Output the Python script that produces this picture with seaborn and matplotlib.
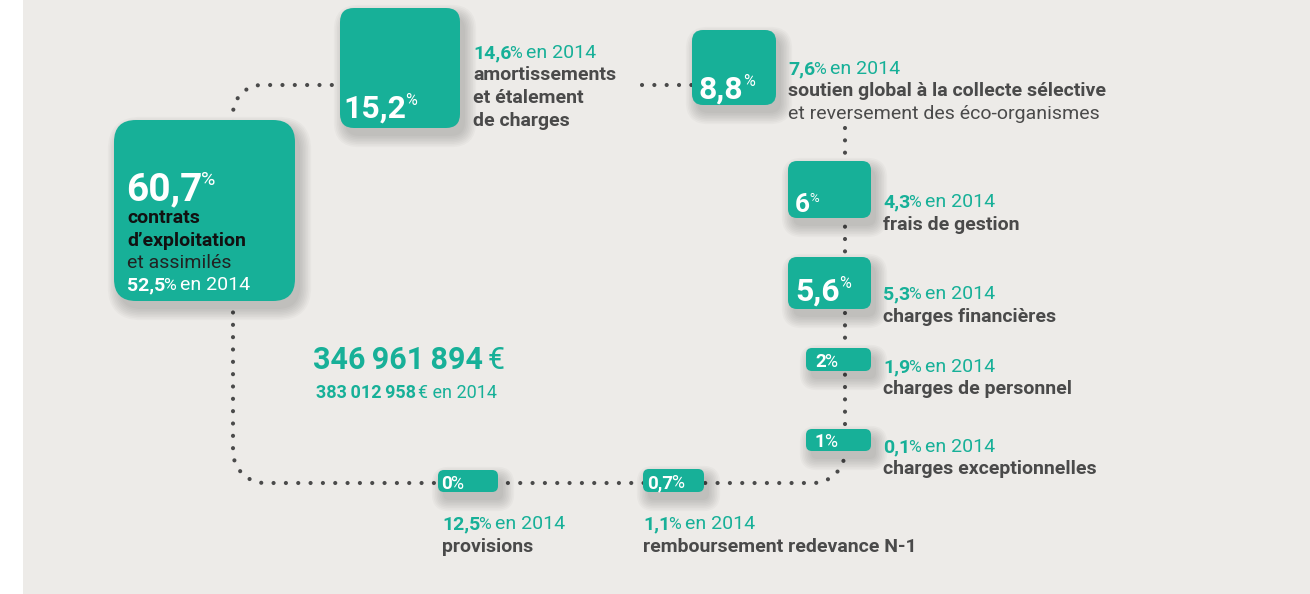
import numpy as np
import matplotlib
matplotlib.use("Agg")
import matplotlib.pyplot as plt
import seaborn as sns
from matplotlib.patches import FancyBboxPatch, Rectangle

# data (share of expenses, %)
categories = ["contrats\nd’exploitation", "amortissements\net étalement\nde charges",
              "soutien global à la collecte sélective", "frais de gestion",
              "charges financières", "charges de personnel", "charges exceptionnelles",
              "remboursement redevance N-1", "provisions"]
sub_labels = ["et assimilés", "", "et reversement des éco-organismes", "", "", "", "", "", ""]
share_2015 = [60.7, 15.2, 8.8, 6, 5.6, 2, 1, 0.7, 0]
share_2014 = [52.5, 14.6, 7.6, 4.3, 5.3, 1.9, 0.1, 1.1, 12.5]
total_2015 = 346961894
total_2014 = 383012958

# layout in pixels: box (x0, y0, x1, y1, radius), number (x, baseline, size, superscript %), label (x, baseline)
boxes = [(114, 120, 295, 301, 22), (340, 8, 460, 128, 14), (692, 30, 776, 105, 11),
         (788, 161, 871, 218, 9), (788, 257, 871, 309, 9), (806, 348, 871, 371, 6),
         (806, 429, 871, 451, 6), (643, 469, 704, 492, 6), (438, 470, 498, 492, 6)]
numbers = [(126, 200, 28, True), (343, 118, 23, True), (699, 99, 23, True),
           (795, 212, 19, True), (795, 301, 23, True), (815, 367, 13.5, False),
           (815, 447, 13.5, False), (647, 488, 13.5, False), (441, 489, 13.5, False)]
label_pos = [(127, 223), (473, 58), (788, 74), (883, 207), (883, 299), (883, 372),
             (883, 452), (643, 529), (442, 529)]

TEAL = "#17b098"
BG = "#edebe8"
DARK = "#4a4a4a"
LINE = 22.5
FS = 14

sns.set_theme(style="white")
plt.rcParams["font.family"] = ["Roboto", "DejaVu Sans"]

fig = plt.figure(figsize=(13.1, 5.94), dpi=100)
ax = fig.add_axes([0, 0, 1, 1])
ax.set_xlim(0, 1310)
ax.set_ylim(594, 0)
ax.axis("off")
renderer = fig.canvas.get_renderer()

ax.add_patch(Rectangle((23, 0), 1287, 594, fc=BG, ec="none", zorder=0))


def fr(v):
    return f"{v:g}".replace(".", ",")


def thousands(v):
    return f"{v:,}".replace(",", "\u2009")


def rich(x, y, parts, z=5):
    # parts: (text, size, weight, color, rise, kern after)
    for txt, size, weight, color, rise, kern in parts:
        t = ax.text(x, y - rise, txt, fontsize=size, fontweight=weight, color=color,
                    va="baseline", ha="left", zorder=z)
        x += t.get_window_extent(renderer).width + kern
    return x


def card(x0, y0, x1, y1, r):
    for k in range(8):
        e = 1.6 * k
        ax.add_patch(FancyBboxPatch((x0 + 5 - e, y0 + 8 - e), x1 - x0 + 2 * e, y1 - y0 + 2 * e,
                                    boxstyle=f"round,pad=0,rounding_size={r + e}",
                                    fc="black", ec="none", alpha=0.022, zorder=2))
    ax.add_patch(FancyBboxPatch((x0, y0), x1 - x0, y1 - y0,
                                boxstyle=f"round,pad=0,rounding_size={r}",
                                fc=TEAL, ec="none", zorder=3))


def arc(cx, cy, r, a0, a1, n=30):
    t = np.radians(np.linspace(a0, a1, n))
    return np.c_[cx + r * np.cos(t), cy + r * np.sin(t)]


def year_line(x, y, v, color):
    rich(x, y, [(fr(v), FS, "bold", color, 0, -2), ("%", FS * 0.9, "normal", color, 0, 4),
                ("en 2014", FS, "normal", color, 0, 0)])


# dotted connector
dot = dict(color="#4a4a4a", lw=3.0, linestyle=(0, (0.01, 2.95)),
           dash_capstyle="round", solid_capstyle="round", zorder=1)
p1 = np.vstack([[[845, 128]], arc(813, 451, 32, 0, 90), arc(265, 451, 32, 90, 180), [[233, 301]]])
ax.plot(p1[:, 0], p1[:, 1], **dot)
p2 = np.vstack([[[233, 122]], arc(262, 114, 29, 180, 270), [[340, 85]]])
ax.plot(p2[:, 0], p2[:, 1], **dot)
ax.plot([642, 692], [85, 85], **dot)

for i, (cat, sub, v15, v14) in enumerate(zip(categories, sub_labels, share_2015, share_2014)):
    card(*boxes[i])
    nx, ny, ns, sup = numbers[i]
    if sup:
        rich(nx, ny, [(fr(v15), ns, "bold", "white", 0, -1),
                      ("%", ns * 0.5, "normal", "white", ns * 0.55, 0)])
    else:
        rich(nx, ny, [(fr(v15), ns, "bold", "white", 0, -1.5), ("%", ns * 0.95, "normal", "white", 0, 0)])

    lx, ly = label_pos[i]
    if i == 0:
        # label inside the big card
        for j, line in enumerate(cat.split("\n")):
            ax.text(lx, ly + j * LINE, line, fontsize=FS, fontweight="bold", color="#111111",
                    va="baseline", zorder=5)
        k = len(cat.split("\n"))
        ax.text(lx, ly + k * LINE, sub, fontsize=FS, color="#222222",
                va="baseline", zorder=5)
        year_line(lx, ly + (k + 1) * LINE, v14, "white")
        continue
    year_line(lx, ly, v14, TEAL)
    lines = cat.split("\n")
    for j, line in enumerate(lines):
        ax.text(lx, ly + (j + 1) * LINE, line, fontsize=FS, fontweight="bold", color=DARK,
                va="baseline", zorder=5)
    if sub:
        ax.text(lx, ly + (len(lines) + 1) * LINE, sub, fontsize=FS,
                color=DARK, va="baseline", zorder=5)

# totals
rich(313, 369, [(thousands(total_2015), 22, "bold", TEAL, 0, 5), ("€", 22, "normal", TEAL, 0, 0)])
rich(316, 398, [(thousands(total_2014), 13, "bold", TEAL, 0, 2), ("€ en 2014", 13, "normal", TEAL, 0, 0)])

fig.savefig("out.png", dpi=100, facecolor="white")
